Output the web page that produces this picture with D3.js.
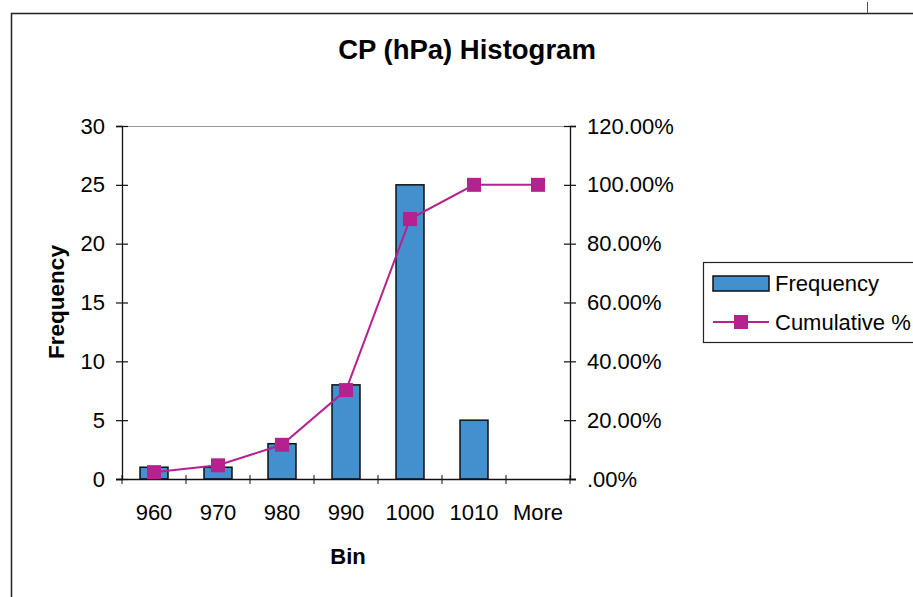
<!DOCTYPE html>
<html>
<head>
<meta charset="utf-8">
<script src="https://cdn.jsdelivr.net/npm/d3@7"></script>
<style>
  body { margin: 0; background: #fff; }
  svg text { font-family: "Liberation Sans", Arial, sans-serif; fill: #000; }
</style>
</head>
<body>
<div id="chart"></div>
<script>
/* Data */
var bins       = ['960', '970', '980', '990', '1000', '1010', 'More'];
var frequency  = [1, 1, 3, 8, 25, 5, 0];
var cumulative = [2.33, 4.65, 11.63, 30.23, 88.37, 100, 100];
var leftTicks  = [0, 5, 10, 15, 20, 25, 30];
var rightTicks = [0, 20, 40, 60, 80, 100, 120];

var W = 913, H = 597;
var plot = { left: 122, right: 570, top: 126, bottom: 479 };

var svg = d3.select('#chart').append('svg')
    .attr('width', W)
    .attr('height', H);

// Outer frame (chart area, cut off at right and bottom)
svg.append('path')
    .attr('d', 'M11.5,597 V13.5 H913')
    .attr('fill', 'none')
    .attr('stroke', '#222')
    .attr('stroke-width', 1.5);
svg.append('line')
    .attr('x1', 867.5).attr('x2', 867.5)
    .attr('y1', 2).attr('y2', 13)
    .attr('stroke', '#555');

/* Scales */
var x = d3.scaleBand().domain(bins).range([plot.left, plot.right]).padding(0);
var yL = d3.scaleLinear().domain([0, 30]).range([plot.bottom, plot.top]);
var yR = d3.scaleLinear().domain([0, 120]).range([plot.bottom, plot.top]);

// Plot area top border (grey)
svg.append('line')
    .attr('x1', plot.left).attr('x2', plot.right)
    .attr('y1', plot.top + 0.5).attr('y2', plot.top + 0.5)
    .attr('stroke', '#999');

/* Bars */
var barW = 28;
svg.selectAll('rect.bar').data(frequency)
  .enter().append('rect')
    .attr('class', 'bar')
    .attr('x', function(d, i){ return x(bins[i]) + x.bandwidth() / 2 - barW / 2; })
    .attr('y', function(d){ return yL(d); })
    .attr('width', barW)
    .attr('height', function(d){ return yL(0) - yL(d); })
    .attr('fill', '#4490cf')
    .attr('stroke', '#111')
    .attr('stroke-width', 1.5)
    .style('display', function(d){ return d > 0 ? null : 'none'; });

/* Axes */
var fontSize = 22;

var leftAxis = svg.append('g')
    .attr('transform', 'translate(' + plot.left + ',0)')
    .call(d3.axisLeft(yL).tickValues(leftTicks).tickSize(6).tickPadding(11));

var rightAxis = svg.append('g')
    .attr('transform', 'translate(' + plot.right + ',0)')
    .call(d3.axisRight(yR).tickValues(rightTicks).tickSize(6).tickPadding(11)
      .tickFormat(function(d){ return d === 0 ? '.00%' : d.toFixed(2) + '%'; }));

var bottomAxis = svg.append('g')
    .attr('transform', 'translate(0,' + plot.bottom + ')')
    .call(d3.axisBottom(x).tickSize(0).tickPadding(25));

// Category boundary ticks
var bounds = bins.map(function(b){ return x(b); }).concat([plot.right]);
bottomAxis.selectAll('line.bound').data(bounds)
  .enter().append('line')
    .attr('class', 'bound')
    .attr('x1', function(d){ return d; })
    .attr('x2', function(d){ return d; })
    .attr('y1', -4).attr('y2', 5)
    .attr('stroke', '#111');

// Cross ticks on the value axes
leftAxis.selectAll('.tick line').attr('x1', 6);
rightAxis.selectAll('.tick line').attr('x1', -6);

[leftAxis, rightAxis, bottomAxis].forEach(function(a){
  a.select('.domain').attr('stroke', '#111').attr('stroke-width', 1.3);
  a.selectAll('.tick line').attr('stroke', '#111').attr('stroke-width', 1.2);
  a.selectAll('text')
      .style('font-size', fontSize + 'px')
      .attr('fill', '#000');
  a.attr('font-family', null);
});
bottomAxis.select('.domain').attr('d', 'M' + (plot.left - 6) + ',0.5H' + (plot.right + 6));

/* Cumulative line */
var cx = function(d, i){ return x(bins[i]) + x.bandwidth() / 2; };
var line = d3.line()
    .x(cx)
    .y(function(d){ return yR(d); });

svg.append('path')
    .datum(cumulative)
    .attr('d', line)
    .attr('fill', 'none')
    .attr('stroke', '#b5228f')
    .attr('stroke-width', 2);

var mk = 14;
svg.selectAll('rect.mark').data(cumulative)
  .enter().append('rect')
    .attr('class', 'mark')
    .attr('x', function(d, i){ return cx(d, i) - mk / 2; })
    .attr('y', function(d){ return yR(d) - mk / 2; })
    .attr('width', mk)
    .attr('height', mk)
    .attr('fill', '#b5228f');

/* Titles */
svg.append('text')
    .attr('x', 467).attr('y', 59)
    .attr('text-anchor', 'middle')
    .style('font-size', '27.5px')
    .style('font-weight', 'bold')
    .text('CP (hPa) Histogram');

svg.append('text')
    .attr('x', (plot.left + plot.right) / 2 + 2).attr('y', 564)
    .attr('text-anchor', 'middle')
    .style('font-size', '22px')
    .style('font-weight', 'bold')
    .text('Bin');

svg.append('text')
    .attr('transform', 'translate(64,302) rotate(-90)')
    .attr('text-anchor', 'middle')
    .style('font-size', '22.5px')
    .style('font-weight', 'bold')
    .text('Frequency');

/* Legend */
var lg = svg.append('g').attr('transform', 'translate(703,262)');
lg.append('rect')
    .attr('x', 0.5).attr('y', 0.5)
    .attr('width', 215).attr('height', 80)
    .attr('fill', '#fff')
    .attr('stroke', '#222')
    .attr('stroke-width', 1.2);
lg.append('rect')
    .attr('x', 10).attr('y', 14)
    .attr('width', 56).attr('height', 15)
    .attr('fill', '#4490cf')
    .attr('stroke', '#111')
    .attr('stroke-width', 1.5);
lg.append('line')
    .attr('x1', 10).attr('x2', 66)
    .attr('y1', 60).attr('y2', 60)
    .attr('stroke', '#b5228f')
    .attr('stroke-width', 2);
lg.append('rect')
    .attr('x', 31).attr('y', 53)
    .attr('width', 14).attr('height', 14)
    .attr('fill', '#b5228f');
lg.append('text')
    .attr('x', 72).attr('y', 29)
    .style('font-size', fontSize + 'px')
    .text('Frequency');
lg.append('text')
    .attr('x', 72).attr('y', 68)
    .style('font-size', fontSize + 'px')
    .text('Cumulative %');
</script>
</body>
</html>
